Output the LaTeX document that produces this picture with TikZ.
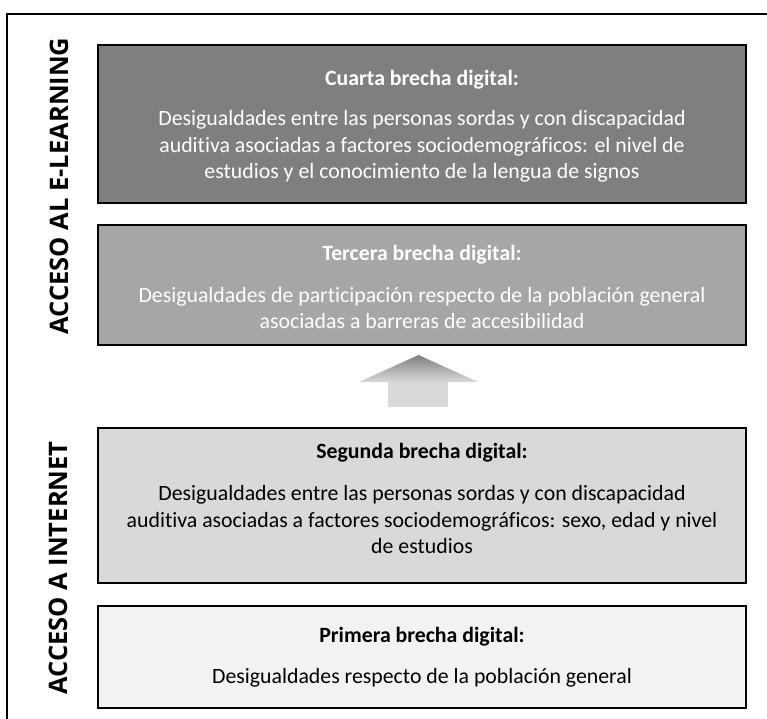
\documentclass[tikz,border=0pt]{standalone}
\usepackage{fontspec}
\setmainfont{Carlito}[Ligatures=NoCommon]
\newfontfamily\rotulo{Open Sans}
\usetikzlibrary{shadows}
\definecolor{grisA}{HTML}{7F7F7F}
\definecolor{grisB}{HTML}{A6A6A6}
\definecolor{grisC}{HTML}{D9D9D9}
\definecolor{grisD}{HTML}{F2F2F2}
\tikzstyle{caja} = [draw=black, line width=1.2pt, minimum width=648pt, inner sep=0pt,
  drop shadow={shadow xshift=1.3pt, shadow yshift=-1.3pt, fill=black!35, opacity=1}]
\tikzstyle{texto} = [align=center, font=\fontsize{21.8}{26.6}\selectfont]
\tikzstyle{eje} = [rotate=90, font=\rotulo\bfseries\fontsize{25.5}{30}\selectfont]

\begin{document}
\begin{tikzpicture}[x=1pt, y=-1pt]
        \useasboundingbox (0,0) rectangle (767,718);
        %marco
        \draw[line width=2.5pt] (780,14) -- (7,14) -- (7,730);
        %cajas
        \node[caja, fill=grisA, minimum height=158pt] (cuarta) at (422,124) {};
        \node[caja, fill=grisB, minimum height=120pt] (tercera) at (422,285) {};
        \node[caja, fill=grisC, minimum height=155pt] (segunda) at (422,505.5) {};
        \node[caja, fill=grisD, minimum height=102pt] (primera) at (422,657) {};
        %textos
        \node[texto, text=white] (t4) at (422,126.5) {\textbf{Cuarta brecha digital:}\\[13pt]
          Desigualdades entre las personas sordas y con discapacidad\\
          auditiva asociadas a factores sociodemográficos: el nivel de\\
          estudios y el conocimiento de la lengua de signos};
        \node[texto, text=white] (t3) at (422,287) {\textbf{Tercera brecha digital:}\\[15pt]
          Desigualdades de participación respecto de la población general\\
          asociadas a barreras de accesibilidad};
        \node[texto] (t2) at (422,498.5) {\textbf{Segunda brecha digital:}\\[16pt]
          Desigualdades entre las personas sordas y con discapacidad\\
          auditiva asociadas a factores sociodemográficos: sexo, edad y nivel\\
          de estudios};
        \node[texto] (t1) at (422,657.5) {\textbf{Primera brecha digital:}\\[14pt]
          Desigualdades respecto de la población general};
        %flecha
        \shade[top color=grisA, bottom color=grisC] (359,382) -- (418.5,355) -- (478,382) -- cycle;
        \fill[grisC] (388,382) rectangle (448,407);
        %ejes
        \node[eje] (elearning) at (59,186) {ACCESO AL E-LEARNING};
        \node[eje] (internet) at (58,568) {ACCESO A INTERNET};
\end{tikzpicture}
\end{document}
